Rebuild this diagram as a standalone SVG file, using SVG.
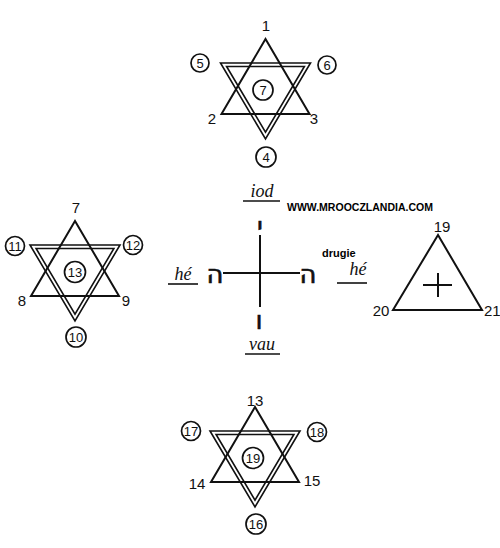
<svg xmlns="http://www.w3.org/2000/svg" width="500" height="548" viewBox="0 0 500 548">
<style>
.ln{fill:none;stroke:#111;stroke-width:2;stroke-linejoin:miter}
.dl{fill:none;stroke:#111;stroke-width:1.6}
.c{fill:#fff;stroke:#111;stroke-width:1.7}
.n{font-family:"Liberation Sans","DejaVu Sans",sans-serif;font-size:13px;fill:#111;text-anchor:middle;dominant-baseline:central}
.m{font-family:"Liberation Sans","DejaVu Sans",sans-serif;font-size:15px;fill:#111;text-anchor:middle;dominant-baseline:central}
.it{font-family:"Liberation Serif",serif;font-style:italic;font-size:18px;fill:#111;text-anchor:middle}
.he{font-family:"DejaVu Sans",sans-serif;font-size:26px;fill:#111;stroke:#111;stroke-width:0.6;text-anchor:middle;dominant-baseline:central}
.b{font-family:"Liberation Sans","DejaVu Sans",sans-serif;font-weight:bold;font-size:10px;fill:#000}
</style>
<defs>
<g id="star">
<polygon class="ln" points="0,0 -44,75 44,75"/>
<polygon class="dl" points="-45,24 45,24 0,100"/>
<polygon class="dl" points="-38.9,27.5 38.9,27.5 0,93.1"/>
</g>
</defs>
<rect width="500" height="548" fill="#fff"/>

<g id="star1">
<use href="#star" transform="translate(265.5,39)"/>
<text class="m" x="266" y="25">1</text>
<circle class="c" cx="200" cy="63" r="9"/><text class="n" x="200" y="63">5</text>
<circle class="c" cx="327" cy="65" r="9"/><text class="n" x="327" y="65">6</text>
<circle class="c" cx="263" cy="90" r="10"/><text class="n" x="263" y="90">7</text>
<text class="m" x="212" y="118">2</text>
<text class="m" x="314" y="118">3</text>
<circle class="c" cx="266" cy="157" r="10"/><text class="n" x="266" y="157">4</text>
</g>

<g id="star2">
<use href="#star" transform="translate(75,221)"/>
<text class="m" x="76" y="207">7</text>
<circle class="c" cx="15" cy="246" r="9.5"/><text class="n" x="15" y="246">11</text>
<circle class="c" cx="133" cy="245" r="9.5"/><text class="n" x="133" y="245">12</text>
<circle class="c" cx="75" cy="272" r="10.5"/><text class="n" x="75" y="272">13</text>
<text class="m" x="22" y="300">8</text>
<text class="m" x="126" y="300">9</text>
<circle class="c" cx="76" cy="337" r="10"/><text class="n" x="76" y="337">10</text>
</g>

<g id="star3">
<use href="#star" transform="translate(255,407)"/>
<text class="m" x="255" y="400">13</text>
<circle class="c" cx="191" cy="431" r="9.5"/><text class="n" x="191" y="431">17</text>
<circle class="c" cx="317" cy="432" r="9.5"/><text class="n" x="317" y="432">18</text>
<circle class="c" cx="253" cy="458" r="10.5"/><text class="n" x="253" y="458">19</text>
<text class="m" x="197" y="483">14</text>
<text class="m" x="312" y="480">15</text>
<circle class="c" cx="256" cy="524" r="10"/><text class="n" x="256" y="524">16</text>
</g>

<g id="cross">
<line class="ln" x1="260" y1="235" x2="260" y2="307"/>
<line class="ln" x1="223" y1="273" x2="300" y2="273"/>
<text class="he" x="260" y="226">י</text>
<text class="he" x="215" y="274">ה</text>
<text class="he" x="308" y="274">ה</text>
<text class="he" x="259" y="320">ו</text>
<text class="it" x="262" y="197">iod</text>
<line class="dl" x1="243" y1="201" x2="280" y2="201"/>
<text class="it" x="183" y="280">hé</text>
<line class="dl" x1="168" y1="284" x2="198" y2="284"/>
<text class="it" x="262" y="350">vau</text>
<line class="dl" x1="245" y1="354" x2="280" y2="354"/>
<text class="it" x="358" y="275">hé</text>
<line class="dl" x1="337" y1="283" x2="367" y2="283"/>
</g>

<g id="labels">
<text class="b" x="287" y="211" textLength="146" lengthAdjust="spacingAndGlyphs">WWW.MROOCZLANDIA.COM</text>
<text class="b" x="322" y="257" style="font-size:11px">drugie</text>
</g>

<g id="triangle">
<polygon class="ln" points="438,235 393,310 482,310"/>
<line class="ln" x1="438" y1="273" x2="438" y2="297"/>
<line class="ln" x1="423" y1="285" x2="452" y2="285"/>
<text class="m" x="442" y="226">19</text>
<text class="m" x="381" y="310">20</text>
<text class="m" x="484" y="310" style="text-anchor:start">21</text>
</g>
</svg>
